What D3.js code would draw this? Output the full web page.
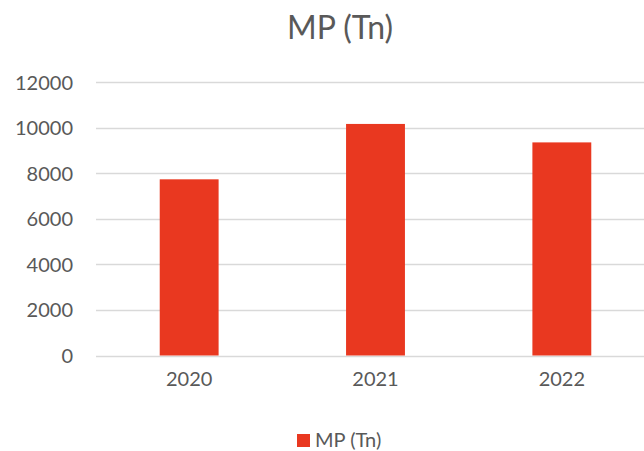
<!DOCTYPE html>
<html>
<head>
<meta charset="utf-8">
<script src="https://cdn.jsdelivr.net/npm/d3@7"></script>
<style>
  body { margin: 0; background: #fff; }
  svg { display: block; overflow: hidden; }
  text { font-family: Lato, "Open Sans", sans-serif; fill: #595959; }
</style>
</head>
<body>
<div id="chart"></div>
<script>
// data
const years = ["2020", "2021", "2022"];
const mpValues = [7730, 10160, 9350];
const yTicks = [0, 2000, 4000, 6000, 8000, 10000, 12000];
const seriesName = "MP (Tn)";

const width = 644;
const height = 451;
const barColor = "#E93820";

const svg = d3.select("#chart")
  .append("svg")
  .attr("width", width)
  .attr("height", height);

// plot area runs off the right edge like the reference
const x = d3.scaleBand()
  .domain(years)
  .range([96, 655])
  .paddingInner(0.684)
  .paddingOuter(0.342);

const y = d3.scaleLinear()
  .domain([0, 12000])
  .range([355.5, 82]);

// gridlines
svg.append("g")
  .selectAll("line")
  .data(yTicks)
  .enter()
  .append("line")
  .attr("x1", 96)
  .attr("x2", 700)
  .attr("y1", d => Math.round(y(d)) + 0.5)
  .attr("y2", d => Math.round(y(d)) + 0.5)
  .attr("stroke", "#d9d9d9")
  .attr("stroke-width", 1.3);

// y axis labels
const yAxis = svg.append("g")
  .attr("transform", "translate(73,0)")
  .call(d3.axisLeft(y).tickValues(yTicks).tickSize(0).tickPadding(0).tickFormat(d3.format("d")));
yAxis.select(".domain").remove();
yAxis.selectAll("text")
  .style("font-size", "20px")
  .attr("fill", "#595959")
  .attr("dy", "0.35em");

// bars
svg.append("g")
  .selectAll("rect")
  .data(mpValues)
  .enter()
  .append("rect")
  .attr("x", (d, i) => x(years[i]))
  .attr("width", x.bandwidth())
  .attr("y", d => y(d))
  .attr("height", d => y(0) - y(d))
  .attr("fill", barColor);

// x axis labels
const xAxis = svg.append("g")
  .attr("transform", "translate(0,372)")
  .call(d3.axisBottom(x).tickSize(0).tickPadding(0));
xAxis.select(".domain").remove();
xAxis.selectAll("text")
  .style("font-size", "20px")
  .attr("fill", "#595959");

// title
svg.append("text")
  .attr("x", 340)
  .attr("y", 39)
  .attr("text-anchor", "middle")
  .style("font-size", "32px")
  .text(seriesName);

// legend
svg.append("rect")
  .attr("x", 297)
  .attr("y", 434)
  .attr("width", 13)
  .attr("height", 13)
  .attr("fill", barColor);
svg.append("text")
  .attr("x", 315)
  .attr("y", 447)
  .style("font-size", "20px")
  .text(seriesName);
</script>
</body>
</html>
